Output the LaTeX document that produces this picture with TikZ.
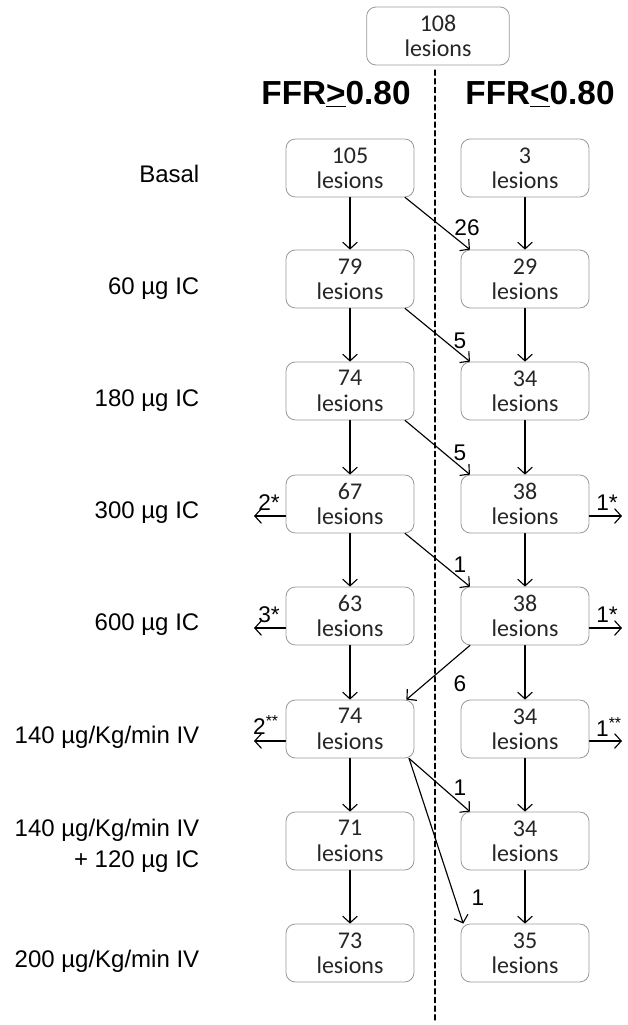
\documentclass[tikz,border=0pt]{standalone}
\usepackage{fontspec}
\setmainfont{Liberation Sans}
\newfontfamily\boxfont{Carlito}
\usetikzlibrary{arrows.meta}

\tikzset{
    lesbox/.style={draw=black!40, line width=0.6pt, rounded corners=7pt,
        minimum width=96pt, minimum height=43.5pt, inner sep=0pt,
        align=center, text=black!85, font=\boxfont\fontsize{18}{19}\selectfont},
    flow/.style={line width=0.85pt, -{Straight Barb[length=5pt,width=11pt]}},
    rowlab/.style={anchor=base east, font=\fontsize{18}{22}\selectfont},
    hdr/.style={anchor=base, font=\bfseries\fontsize{25}{28}\selectfont},
    cnt/.style={font=\fontsize{17}{20}\selectfont, inner sep=1pt}
}

\begin{document}
\begin{tikzpicture}[
    x={(0.75pt,0pt)},
    y={(0pt,-0.75pt)},
    line join=round,
    line cap=round
]
    \useasboundingbox (0,0) rectangle (628,1025);

    % top box and the two groups
    \node[lesbox, minimum width=107pt] (top) at (438,36) {108\\lesions};
    \node[hdr] (hL) at (336,104) {FFR\underline{>}0.80};
    \node[hdr] (hR) at (540,104) {FFR\underline{<}0.80};

    % dividing line
    \coordinate (dtop) at (435,70);
    \coordinate (dbot) at (435,1022);
    \draw[dashed, line width=0.9pt, dash pattern=on 4pt off 2.5pt] (dtop) -- (dbot);

    % boxes, row by row
    \foreach \i/\yy/\lv/\rv in {1/168/105/3, 2/279/79/29, 3/391/74/34, 4/504/67/38,
        5/616/63/38, 6/729/74/34, 7/841/71/34, 8/953/73/35} {
        \node[lesbox] (L\i) at (350,\yy) {\lv\\lesions};
        \node[lesbox] (R\i) at (525,\yy) {\rv\\lesions};
    }

    % row labels
    \node[rowlab] (T1) at (204,182) {Basal};
    \node[rowlab] (T2) at (204,294) {60 µg IC};
    \node[rowlab] (T3) at (204,406) {180 µg IC};
    \node[rowlab] (T4) at (204,518) {300 µg IC};
    \node[rowlab] (T5) at (204,630) {600 µg IC};
    \node[rowlab] (T6) at (204,743) {140 µg/Kg/min IV};
    \node[rowlab] (T7) at (204,836) {140 µg/Kg/min IV};
    \node[rowlab] (T7b) at (204,867) {+ 120 µg IC};
    \node[rowlab] (T8) at (204,967) {200 µg/Kg/min IV};

    % straight down
    \foreach \i [evaluate=\i as \j using int(\i+1)] in {1,...,7} {
        \draw[flow] (L\i.south) -- (L\j.north);
        \draw[flow] (R\i.south) -- (R\j.north);
    }

    % crossing over
    \draw[flow] ([xshift=-7pt]L1.south east) -- ([xshift=7pt]R2.north west);
    \draw[flow] ([xshift=-7pt]L2.south east) -- ([xshift=7pt]R3.north west);
    \draw[flow] ([xshift=-7pt]L3.south east) -- ([xshift=7pt]R4.north west);
    \draw[flow] ([xshift=-7pt]L4.south east) -- ([xshift=7pt]R5.north west);
    \draw[flow] ([xshift=7pt]R5.south west) -- ([xshift=-6pt]L6.north east);
    \draw[flow] ([xshift=-4pt]L6.south east) -- ([xshift=7pt]R7.north west);
    \draw[flow] ([xshift=-4pt]L6.south east) -- ([xshift=2pt]R8.north west);
    \node[cnt] (c1) at (467,228) {26};
    \node[cnt] (c2) at (460,341) {5};
    \node[cnt] (c3) at (460,453) {5};
    \node[cnt] (c4) at (460,565) {1};
    \node[cnt] (c5) at (460,684) {6};
    \node[cnt] (c6) at (460,788) {1};
    \node[cnt] (c7) at (478,898) {1};

    % lesions leaving
    \foreach \i/\yy in {4/516, 5/628, 6/741} {
        \coordinate (oL\i) at (254,\yy);
        \coordinate (oR\i) at (622,\yy);
        \draw[flow] (L\i.west |- oL\i) -- (oL\i);
        \draw[flow] (R\i.east |- oR\i) -- (oR\i);
    }
    \node[cnt] (x4L) at (269,503) {2*};
    \node[cnt] (x4R) at (607,503) {1*};
    \node[cnt] (x5L) at (269,615) {3*};
    \node[cnt] (x5R) at (607,615) {1*};
    \node[cnt] (x6L) at (266,725) {2\textsuperscript{**}};
    \node[cnt] (x6R) at (609,727) {1\textsuperscript{**}};

\end{tikzpicture}
\end{document}
